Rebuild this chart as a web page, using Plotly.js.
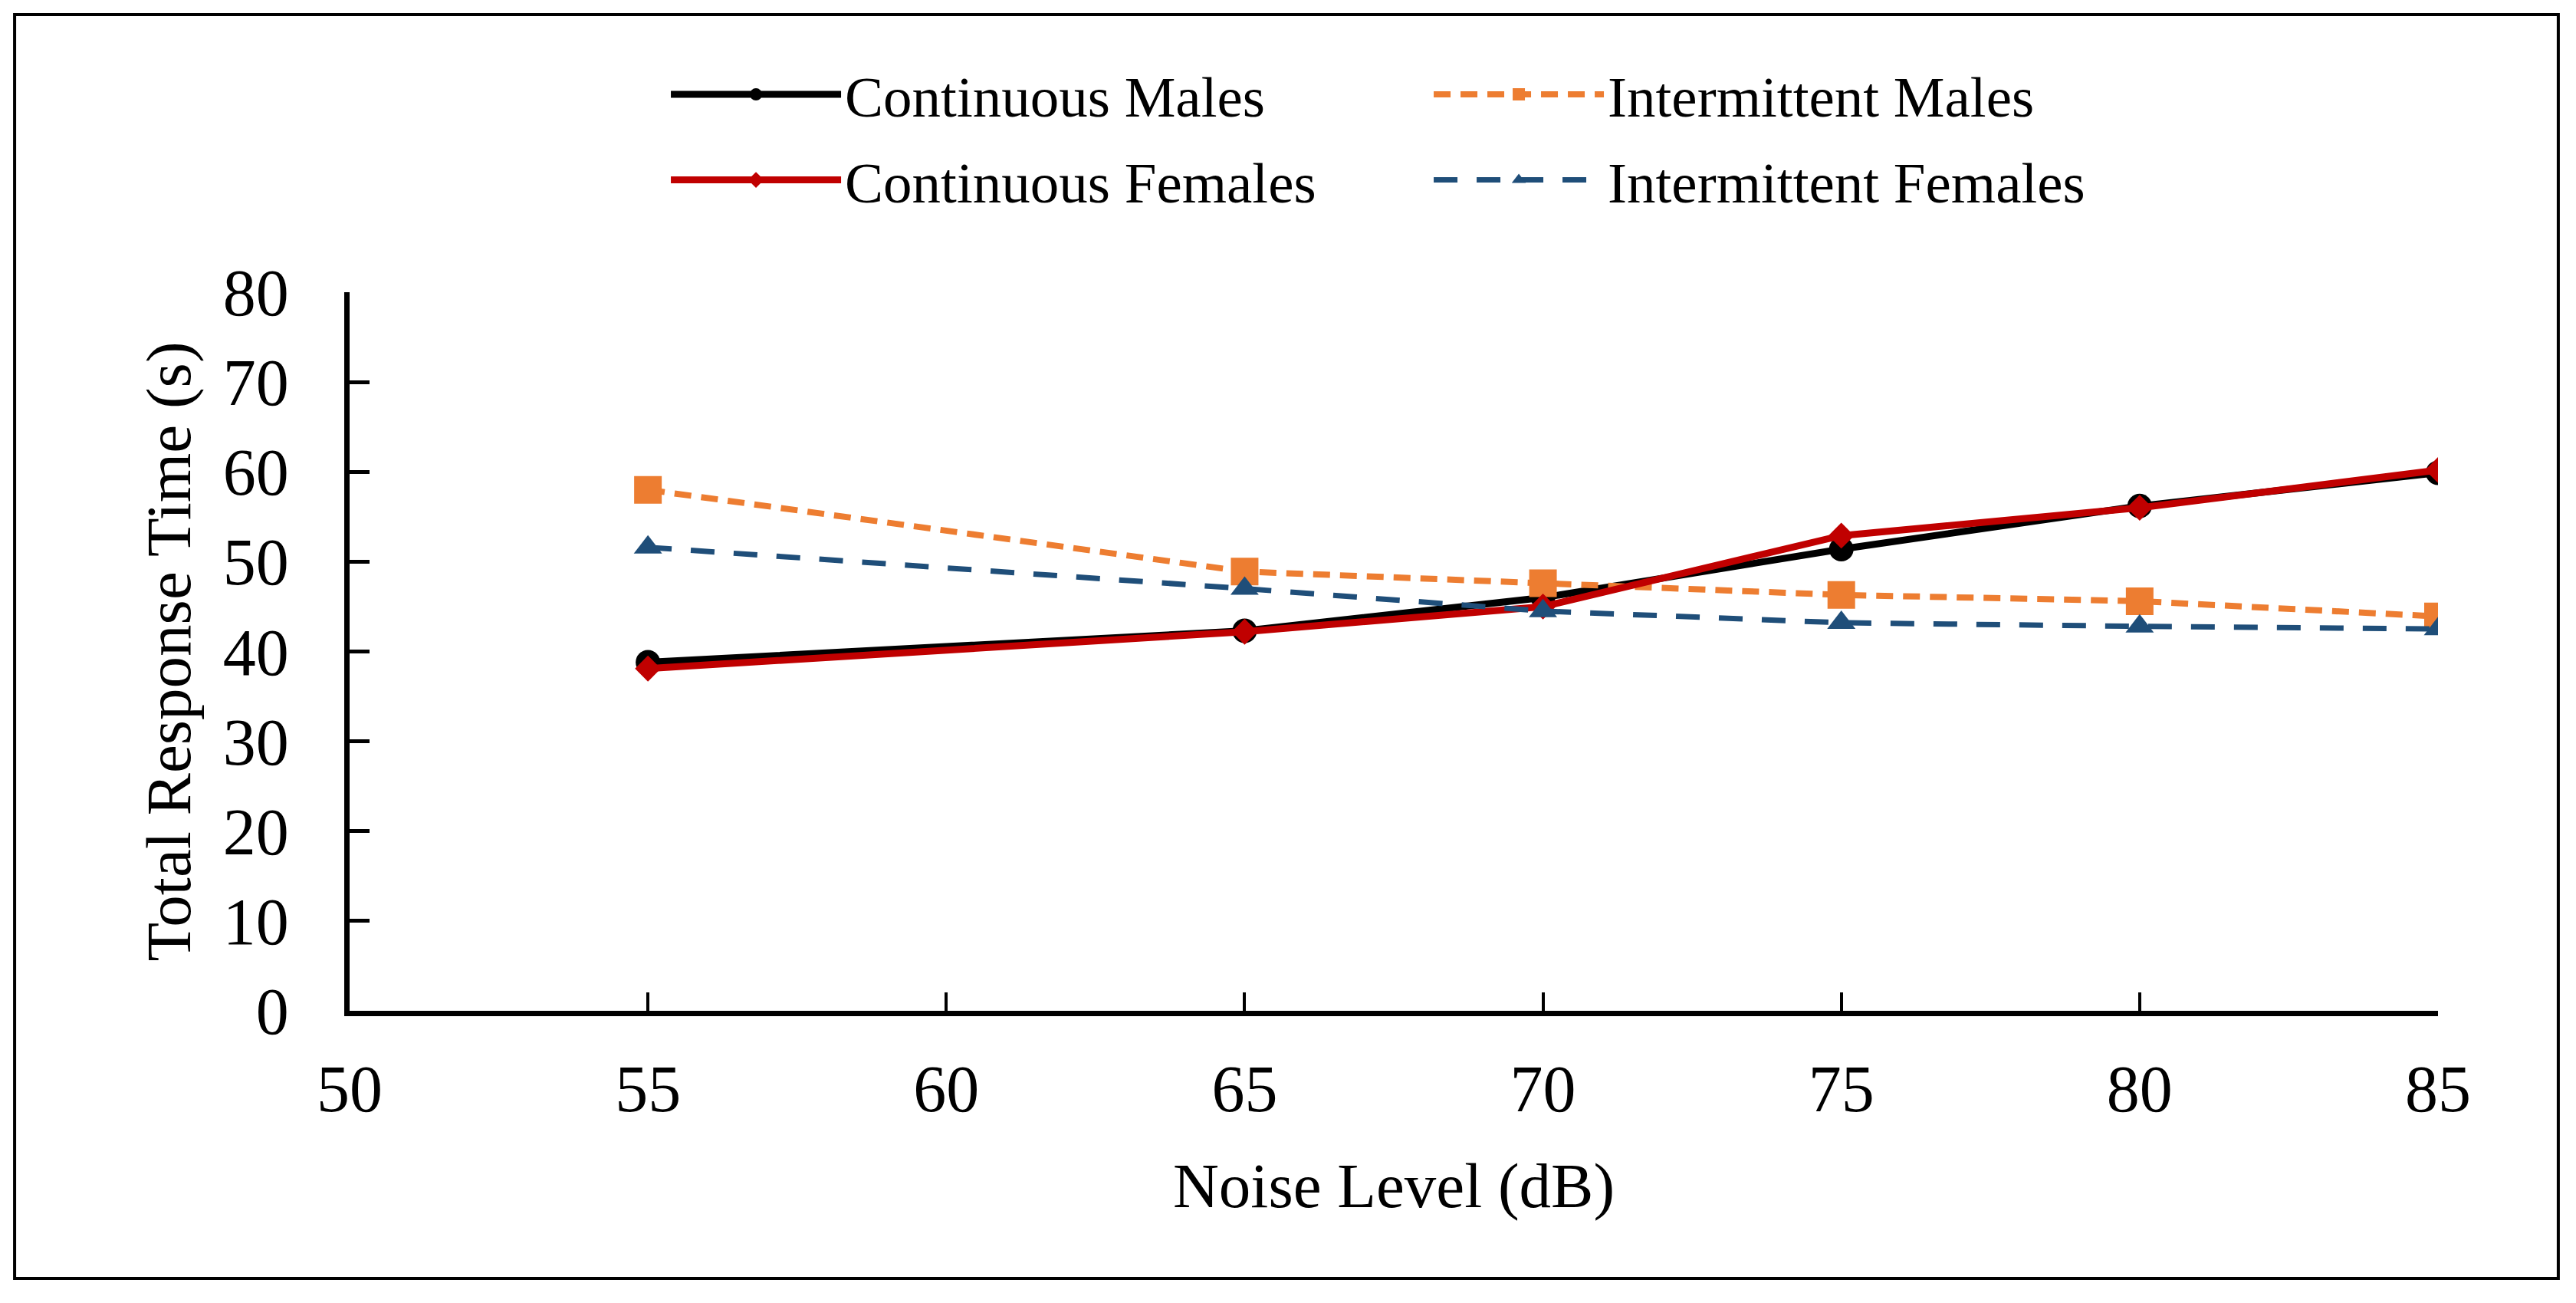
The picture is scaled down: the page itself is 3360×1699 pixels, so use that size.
<!DOCTYPE html>
<html>
<head>
<meta charset="utf-8">
<script src="https://cdn.plot.ly/plotly-3.0.1.min.js"></script>
<style>html,body{margin:0;padding:0;background:#fff;}#chart{width:3360px;height:1699px;}</style>
</head>
<body>
<div id="chart"></div>
<script>
const noiseLevels = [55, 65, 70, 75, 80, 85];
const continuousMales = [38.8, 42.3, 46.0, 51.4, 56.2, 59.9];
const intermittentMales = [58.0, 48.9, 47.6, 46.3, 45.6, 43.9];
const continuousFemales = [38.1, 42.2, 45.0, 52.9, 56.0, 60.2];
const intermittentFemales = [51.6, 47.0, 44.5, 43.2, 42.8, 42.5];
const xTicks = [50, 55, 60, 65, 70, 75, 80, 85];
const yTicks = [0, 10, 20, 30, 40, 50, 60, 70, 80];

const serif = "Liberation Serif, Times New Roman, serif";

const traces = [
  {x: noiseLevels, y: continuousMales, name: 'Continuous Males', mode: 'lines+markers', legend: 'legend',
   line: {color: '#000000', width: 9}, marker: {symbol: 'circle', size: 32, color: '#000000'}},
  {x: noiseLevels, y: intermittentMales, name: 'Intermittent Males', mode: 'lines+markers', legend: 'legend',
   line: {color: '#ED7D31', width: 8, dash: '22px,13px'}, marker: {symbol: 'square', size: 36, color: '#ED7D31'}},
  {x: noiseLevels, y: continuousFemales, name: 'Continuous Females', mode: 'lines+markers', legend: 'legend2',
   line: {color: '#C00000', width: 9}, marker: {symbol: 'diamond', size: 26, color: '#C00000'}},
  {x: noiseLevels, y: intermittentFemales, name: 'Intermittent Females', mode: 'lines+markers', legend: 'legend2',
   line: {color: '#1F4E79', width: 7, dash: '31px,25px'}, marker: {symbol: 'triangle-up', size: 32, color: '#1F4E79'}}
];

const legendCommon = {
  orientation: 'h', xanchor: 'left', yanchor: 'middle', x: 0.152,
  font: {family: serif, size: 75, color: '#000'}, bgcolor: 'rgba(0,0,0,0)',
  itemwidth: 222, entrywidth: 758, entrywidthmode: 'pixels', borderwidth: 0
};

const layout = {
  width: 3360, height: 1699,
  margin: {l: 456, r: 180, t: 381, b: 381},
  paper_bgcolor: '#fff', plot_bgcolor: '#fff',
  showlegend: true,
  legend: Object.assign({}, legendCommon, {y: 1.275}),
  legend2: Object.assign({}, legendCommon, {y: 1.156}),
  xaxis: {
    range: [50, 85], tickvals: xTicks, ticktext: xTicks.map(String),
    showline: true, linecolor: '#000', linewidth: 7, showgrid: false, zeroline: false,
    ticks: 'inside', ticklen: 24, tickwidth: 4, tickcolor: '#000',
    ticklabelstandoff: 21,
    tickfont: {family: serif, size: 86, color: '#000'},
    title: {text: 'Noise Level (dB)', font: {family: serif, size: 83, color: '#000'}, standoff: 51}
  },
  yaxis: {
    range: [0, 80], tickvals: yTicks, ticktext: yTicks.map(String),
    showline: true, linecolor: '#000', linewidth: 7, showgrid: false, zeroline: false,
    ticks: 'inside', ticklen: 26, tickwidth: 5, tickcolor: '#000',
    ticklabelstandoff: 55,
    tickfont: {family: serif, size: 86, color: '#000'},
    title: {text: 'Total Response Time (s)', font: {family: serif, size: 83, color: '#000'}, standoff: 17}
  },
  shapes: [{
    type: 'rect', xref: 'paper', yref: 'paper',
    x0: -0.1604, x1: 1.0576, y0: -0.3725, y1: 1.3863,
    line: {color: '#000', width: 4}, fillcolor: 'rgba(0,0,0,0)'
  }]
};

Plotly.newPlot('chart', traces, layout, {displayModeBar: false, staticPlot: true});
</script>
</body>
</html>
